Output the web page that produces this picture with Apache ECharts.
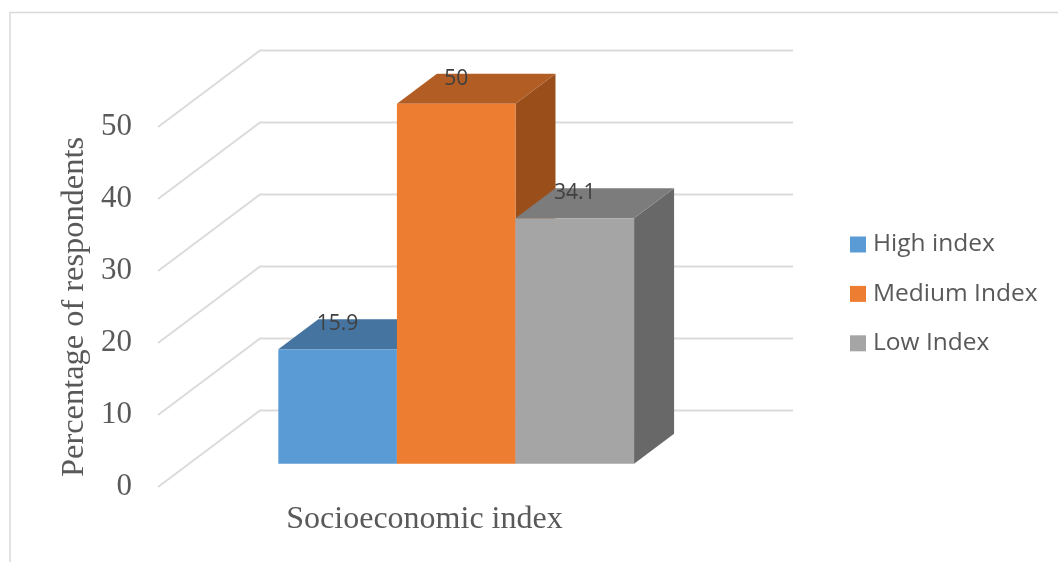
<!DOCTYPE html>
<html>
<head>
<meta charset="utf-8">
<style>html,body{margin:0;padding:0;background:#fff}#c{width:1058px;height:562px}</style>
<script src="https://cdn.jsdelivr.net/npm/echarts@6/dist/echarts.min.js"></script>
</head>
<body>
<div id="c"></div>
<script>
const categories = ['Socioeconomic index'];
const yTicks = [0, 10, 20, 30, 40, 50];
const highIndex = [15.9];
const mediumIndex = [50];
const lowIndex = [34.1];
const seriesNames = ['High index', 'Medium Index', 'Low Index'];
const frontColors = ['#5B9BD5', '#ED7D31', '#A5A5A5'];
const topColors = ['#44749F', '#B15D24', '#7C7C7C'];
const sideColors = ['#3E6A92', '#9A4F1B', '#686868'];

const WALL = { dx: 102, dy: -76.5 };
const PLANE = { dx: 31.7, dy: -23.3 };
const DEPTH = { dx: 40, dy: -30 };
const BAR_FRAC = 0.2225;

function renderWall(params, api) {
  const cs = params.coordSys;
  const y = api.coord([0, api.value(1)])[1];
  return {
    type: 'polyline', silent: true,
    shape: { points: [[cs.x, y], [cs.x + WALL.dx, y + WALL.dy], [cs.x + WALL.dx + cs.width, y + WALL.dy]] },
    style: { fill: null, stroke: '#DBDBDB', lineWidth: 2 }
  };
}
function makeBar(idx) {
  return function (params, api) {
    const band = api.size([1, 0])[0];
    const w = band * BAR_FRAC;
    const base = api.coord([api.value(0), 0]);
    const top = api.coord([api.value(0), api.value(1)]);
    const x0 = base[0] + PLANE.dx + (idx - 1.5) * w;
    const x1 = x0 + w;
    const yb = base[1] + PLANE.dy;
    const yt = top[1] + PLANE.dy;
    const dx = DEPTH.dx, dy = DEPTH.dy;
    return {
      type: 'group',
      children: [
        { type: 'polygon', silent: true, shape: { points: [[x1, yt], [x1 + dx, yt + dy], [x1 + dx, yb + dy], [x1, yb]] }, style: { fill: sideColors[idx] } },
        { type: 'polygon', silent: true, shape: { points: [[x0, yt], [x0 + dx, yt + dy], [x1 + dx, yt + dy], [x1, yt]] }, style: { fill: topColors[idx] } },
        { type: 'rect', silent: true, shape: { x: x0, y: yt, width: w, height: yb - yt }, style: { fill: frontColors[idx] } },
        { type: 'text', silent: true, z2: 10, style: { x: (x0 + x1) / 2, y: yt - 25, text: String(api.value(1)), fill: '#404040', font: '21px "Open Sans"', align: 'center', verticalAlign: 'middle' } }
      ]
    };
  };
}
const valueSets = [highIndex, mediumIndex, lowIndex];
const chart = echarts.init(document.getElementById('c'), null, { renderer: 'canvas' });
chart.setOption({
  animation: false,
  backgroundColor: '#fff',
  grid: { left: 158, top: 127, width: 533, height: 360, containLabel: false },
  legend: {
    data: seriesNames, orient: 'vertical', left: 850, top: 232, padding: 0,
    itemWidth: 16, itemHeight: 16, itemGap: 24.4, icon: 'rect',
    selectedMode: false,
    textStyle: { fontFamily: 'Open Sans', fontSize: 24.5, color: '#595959', padding: [0, 0, 0, 2] }
  },
  xAxis: {
    type: 'category', data: categories,
    name: categories[0], nameLocation: 'middle', nameGap: 17,
    nameTextStyle: { fontFamily: 'Liberation Serif', fontSize: 32, color: '#595959' },
    axisLine: { show: false }, axisTick: { show: false }, axisLabel: { show: false }, splitLine: { show: false }
  },
  yAxis: {
    type: 'value', min: 0, max: 50, interval: 10,
    name: 'Percentage of respondents', nameLocation: 'middle', nameGap: 65,
    nameTextStyle: { fontFamily: 'Liberation Serif', fontSize: 32.4, color: '#595959' },
    axisLine: { show: false }, axisTick: { show: false }, splitLine: { show: false },
    axisLabel: { fontFamily: 'Liberation Serif', fontSize: 31, color: '#595959', margin: 26 }
  },
  graphic: [{
    type: 'polyline', silent: true, z: -1,
    shape: { points: [[10, 562], [10, 12.5], [1058, 12.5]] },
    style: { fill: null, stroke: '#D9D9D9', lineWidth: 1.5 }
  }],
  series: [
    { type: 'custom', name: 'wall', renderItem: renderWall, silent: true, z: 1, data: yTicks.map(v => [0, v]), encode: { x: 0, y: 1 } }
  ].concat(seriesNames.map((n, i) => ({
    type: 'custom', name: n, renderItem: makeBar(i), z: 2 + i,
    itemStyle: { color: frontColors[i] }, silent: true,
    data: valueSets[i].map((v, k) => [k, v]), encode: { x: 0, y: 1 }
  })))
});
</script>
</body>
</html>
